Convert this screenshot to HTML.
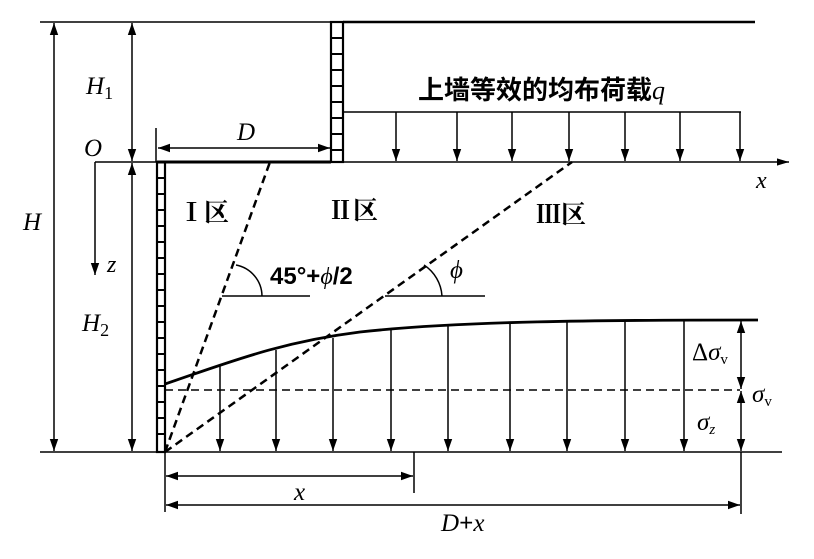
<!DOCTYPE html>
<html><head><meta charset="utf-8"><style>
html,body{margin:0;padding:0;background:#fff;}
svg{display:block;}
text{font-family:"Liberation Serif","Noto Serif CJK SC",serif;fill:#000;}
.i{font-style:italic;}
</style></head><body>
<svg width="814" height="559" viewBox="0 0 814 559" xmlns="http://www.w3.org/2000/svg">
<defs>
<marker id="a" viewBox="0 0 10 10" refX="10" refY="5" markerWidth="12" markerHeight="12" markerUnits="userSpaceOnUse" orient="auto-start-reverse"><path d="M0,1.5 L10,5 L0,8.5 Z" fill="#000"/></marker>
<marker id="b" viewBox="0 0 10 10" refX="10" refY="5" markerWidth="16" markerHeight="12" markerUnits="userSpaceOnUse" orient="auto"><path d="M0,2 L10,5 L0,8 Z" fill="#000"/></marker>
</defs>
<g stroke="#000" fill="none" stroke-width="1.5">
<line x1="40" y1="22" x2="331" y2="22"/>
<line x1="343" y1="22" x2="755" y2="22" stroke-width="2.5"/>
<rect x="331" y="22" width="12" height="140" stroke-width="2.2"/>
<path d="M331,38h12M331,54h12M331,70h12M331,86h12M331,102h12M331,118h12M331,134h12M331,150h12" stroke-width="2"/>
<line x1="343" y1="112" x2="741" y2="112"/>
<g marker-end="url(#a)">
<line x1="396" y1="112" x2="396" y2="161"/><line x1="457" y1="112" x2="457" y2="161"/>
<line x1="512" y1="112" x2="512" y2="161"/><line x1="569" y1="112" x2="569" y2="161"/>
<line x1="625" y1="112" x2="625" y2="161"/><line x1="680" y1="112" x2="680" y2="161"/>
<line x1="740" y1="112" x2="740" y2="161"/>
</g>
<line x1="95" y1="162" x2="789" y2="162" marker-end="url(#b)"/>
<line x1="157" y1="162" x2="331" y2="162" stroke-width="3"/>
<line x1="95" y1="162" x2="95" y2="275" marker-end="url(#a)"/>
<rect x="157" y="162" width="8" height="290" stroke-width="2.2"/>
<path d="M157,178h8M157,194h8M157,210h8M157,226h8M157,242h8M157,258h8M157,274h8M157,290h8M157,306h8M157,322h8M157,338h8M157,354h8M157,370h8M157,386h8M157,402h8M157,418h8M157,434h8" stroke-width="2"/>
<line x1="156" y1="128" x2="156" y2="162"/>
<line x1="158" y1="148" x2="330" y2="148" marker-start="url(#a)" marker-end="url(#a)"/>
<line x1="54" y1="23" x2="54" y2="451" marker-start="url(#a)" marker-end="url(#a)"/>
<line x1="132" y1="23" x2="132" y2="161" marker-start="url(#a)" marker-end="url(#a)"/>
<line x1="132" y1="163" x2="132" y2="451" marker-start="url(#a)" marker-end="url(#a)"/>
<line x1="40" y1="452" x2="782" y2="452"/>
<g stroke-dasharray="8,5" stroke-width="2.5">
<line x1="165" y1="452" x2="270" y2="162"/>
<line x1="165" y1="452" x2="572" y2="162"/>
</g>
<line x1="165" y1="390" x2="740" y2="390" stroke-dasharray="8,5"/>
<line x1="222" y1="296" x2="310" y2="296"/>
<path d="M236,265 A32,32 0 0 1 262,296"/>
<line x1="385" y1="296" x2="485" y2="296"/>
<path d="M424,265 A40,40 0 0 1 442,296"/>
<path d="M165,384 C230,362 280,342 360,332 C460,321 600,320 758,320" stroke-width="2.8"/>
<g marker-end="url(#a)">
<line x1="220" y1="366" x2="220" y2="451"/><line x1="276" y1="350" x2="276" y2="451"/>
<line x1="333" y1="338" x2="333" y2="451"/><line x1="391" y1="329" x2="391" y2="451"/>
<line x1="448" y1="324" x2="448" y2="451"/><line x1="510" y1="322" x2="510" y2="451"/>
<line x1="567" y1="321" x2="567" y2="451"/><line x1="625" y1="320" x2="625" y2="451"/>
<line x1="684" y1="320" x2="684" y2="451"/>
</g>
<line x1="741" y1="321" x2="741" y2="389" marker-start="url(#a)" marker-end="url(#a)"/>
<line x1="741" y1="391" x2="741" y2="451" marker-start="url(#a)" marker-end="url(#a)"/>
<line x1="165" y1="452" x2="165" y2="512"/>
<line x1="414" y1="452" x2="414" y2="493"/>
<line x1="741" y1="452" x2="741" y2="514"/>
<line x1="166" y1="476" x2="413" y2="476" marker-start="url(#a)" marker-end="url(#a)"/>
<line x1="166" y1="505" x2="740" y2="505" marker-start="url(#a)" marker-end="url(#a)"/>
</g>
<text x="418" y="99" font-size="26" font-weight="bold" style="font-family:'Noto Sans CJK SC',sans-serif">上墙等效的均布荷载<tspan class="i" font-weight="normal" style="font-family:'Liberation Serif',serif">q</tspan></text>
<text x="84" y="156" font-size="25" class="i">O</text>
<text x="237" y="140" font-size="25" class="i">D</text>
<text x="86" y="94" font-size="25" class="i">H<tspan font-size="18" dy="5" font-style="normal">1</tspan></text>
<text x="23" y="230" font-size="25" class="i">H</text>
<text x="82" y="331" font-size="25" class="i">H<tspan font-size="18" dy="5" font-style="normal">2</tspan></text>
<text x="107" y="272" font-size="24" class="i">z</text>
<text x="756" y="188" font-size="24" class="i">x</text>
<text x="179" y="221" font-size="25" font-weight="bold">Ⅰ区</text>
<text x="328" y="219" font-size="25" font-weight="bold">Ⅱ区</text>
<text x="536" y="223" font-size="25" font-weight="bold">Ⅲ区</text>
<text x="270" y="284" font-size="24" style="font-family:'Liberation Sans',sans-serif;font-weight:bold">45°+<tspan style="font-family:'Liberation Serif',serif;font-style:italic;font-weight:normal">ϕ</tspan>/2</text>
<text x="450" y="278" font-size="25" class="i">ϕ</text>
<text x="692" y="360" font-size="25">Δ<tspan class="i">σ</tspan><tspan font-size="15" dy="4">v</tspan></text>
<text x="752" y="402" font-size="25" class="i">σ<tspan font-size="15" dy="4" font-style="normal">v</tspan></text>
<text x="697" y="430" font-size="25" class="i">σ<tspan font-size="15" dy="4">z</tspan></text>
<text x="294" y="500" font-size="25" class="i">x</text>
<text x="441" y="531" font-size="25" class="i">D<tspan font-style="normal" font-weight="bold">+</tspan>x</text>
</svg>
</body></html>
